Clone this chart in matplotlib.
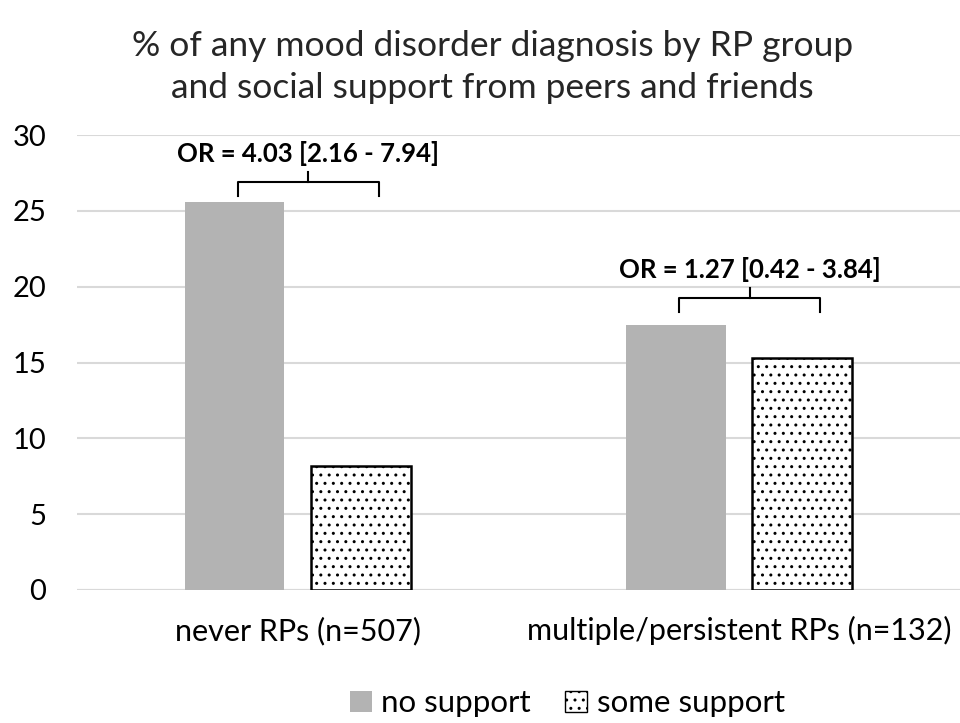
import numpy as np
import matplotlib.pyplot as plt
from matplotlib.patches import Patch

plt.rcParams['font.family'] = ['Lato', 'DejaVu Sans']
plt.rcParams['hatch.linewidth'] = 1.0

groups = ["never RPs (n=507)", "multiple/persistent RPs (n=132)"]
no_support = [25.6, 17.5]
some_support = [8.2, 15.3]
or_labels = ["OR = 4.03 [2.16 - 7.94]", "OR = 1.27 [0.42 - 3.84]"]
bracket_y = [26.9, 19.25]

fig = plt.figure(figsize=(9.6, 7.23), dpi=100)
ax = fig.add_axes([0.080, 0.184, 0.92, 0.629])

x = np.arange(len(groups))
w = 0.226
off = 0.143
ax.bar(x - off, no_support, w, color="#b3b3b3", zorder=3)
ax.bar(x + off, some_support, w, color="white", edgecolor="black",
       linewidth=1.8, hatch="..", zorder=3)

# brackets with OR labels
for i in range(len(groups)):
    x0 = x[i] - 0.136
    x1 = x[i] + 0.184
    xm = (x0 + x1) / 2
    y = bracket_y[i]
    ax.plot([x0, x0, x1, x1], [y - 0.9, y, y, y - 0.9], color="black", lw=1.5, zorder=4)
    ax.plot([xm, xm], [y, y + 0.65], color="black", lw=1.5, zorder=4)
    ax.text(xm, y + 1.9, or_labels[i], ha="center", va="center",
            fontsize=18.5, fontweight="bold", color="black")

ax.set_xlim(-0.5, 1.5)
ax.set_ylim(0, 30)
ax.set_yticks(range(0, 31, 5))
ax.set_xticks(x)
ax.set_xticklabels(groups, fontsize=22)
ax.tick_params(axis="y", labelsize=21, length=0, pad=22, labelcolor="black")
ax.tick_params(axis="x", length=0, pad=19, labelcolor="black")
ax.grid(axis="y", color="#d9d9d9", lw=1.5, zorder=0)
for s in ax.spines.values():
    s.set_visible(False)
ax.axhline(0, color="#d9d9d9", lw=1.5, zorder=1)

fig.text(0.513, 0.907, "% of any mood disorder diagnosis by RP group\nand social support from peers and friends",
         ha="center", va="center", fontsize=25.5, color="#262626", linespacing=1.4)

handles = [Patch(facecolor="#b3b3b3", edgecolor="none", label="no support"),
           Patch(facecolor="white", edgecolor="black", hatch="..", label="some support")]
fig.legend(handles=handles, loc="center", bbox_to_anchor=(0.591, 0.027), ncol=2,
           frameon=False, fontsize=22.5, handlelength=0.7, handleheight=0.7,
           handletextpad=0.3, columnspacing=1.1)

fig.savefig("out.png", dpi=100)
